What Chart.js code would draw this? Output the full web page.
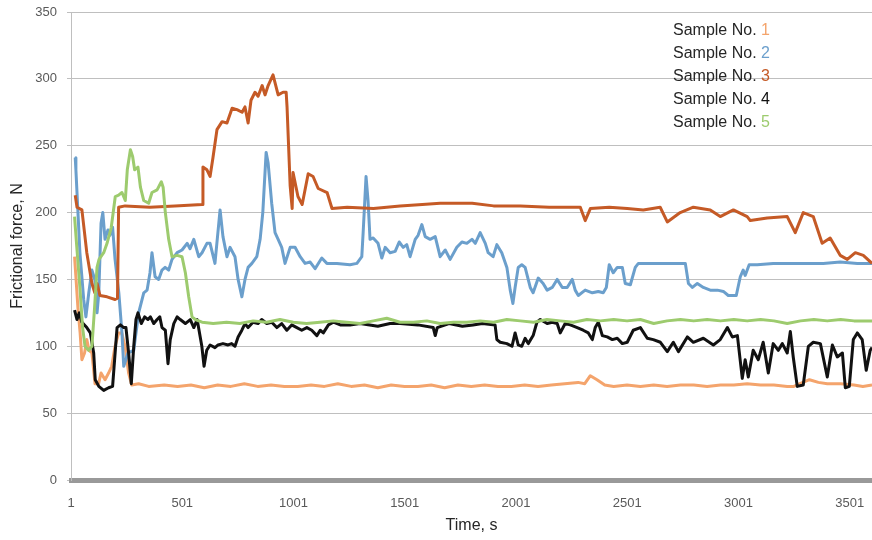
<!DOCTYPE html>
<html>
<head>
<meta charset="utf-8">
<title>Frictional force vs time</title>
<script src="https://cdn.jsdelivr.net/npm/chart.js@4.4.0/dist/chart.umd.min.js"></script>
<style>
  html, body { margin: 0; padding: 0; background: #fff; }
  #wrap { width: 872px; height: 540px; position: relative; }
</style>
</head>
<body>
<div id="wrap"><canvas id="frictionChart"></canvas></div>
<script>
// ---- data (time in s, force in N) ----
const timeTicks = [1, 501, 1001, 1501, 2001, 2501, 3001, 3501];
const sampleNumbers = ['1', '2', '3', '4', '5'];

const s1Time = [17,23,32,42,50,62,72,82,95,109, 125,136,154,170,184,199,215,229,244,260,
  274,305,350,420,480,540,600,660,720,780, 840,900,960,1020,1080,1140,1200,1260,1320,1380,
  1440,1500,1560,1620,1680,1740,1800,1860,1920,1980, 2040,2100,2160,2220,2280,2310,2335,2365,2400,2440,
  2500,2560,2620,2680,2740,2800,2860,2920,2980,3040, 3100,3160,3220,3250,3290,3320,3360,3400,3460,3520,
  3560,3601];
const s1Force = [167,152,129,110,90,95,105,97,95,72, 72,80,75,80,85,100,110,110,100,80,
  71,72,70,71,70,71,69,71,70,72, 70,71,70,70,71,70,72,70,71,69,
  71,70,70,71,69,71,70,71,70,70, 71,70,71,72,73,72,78,75,71,70,
  71,70,71,70,71,71,70,71,71,72, 71,71,70,70,73,75,73,72,72,71,
  70,71];

const s2Time = [20,23,41,58,68,81,95,108,118,126, 136,144,154,167,176,188,199,216,230,238,
  257,283,305,328,343,356,365,379,395,410, 424,440,455,478,500,523,536,553,575,590,
  612,626,648,671,684,702,716,738,752,769, 783,797,814,836,851,863,878,887,903,918,
  932,948,963,986,1008,1031,1053,1076,1098,1128, 1151,1196,1255,1286,1308,1314,1327,1336,1345,1359,
  1381,1398,1413,1435,1458,1476,1494,1510,1525,1548, 1561,1578,1593,1615,1638,1660,1683,1705,1735,1758,
  1780,1803,1818,1840,1863,1876,1898,1915,1937,1960, 1975,1987,1997,2011,2027,2042,2065,2078,2101,2123,
  2141,2164,2186,2209,2231,2254,2267,2281,2312,2344, 2371,2393,2407,2420,2438,2456,2479,2492,2515,2537,
  2551,2618,2695,2762,2776,2794,2816,2843,2874,2906, 2933,2955,2991,3009,3022,3031,3049,3085,3157,3234,
  3310,3382,3458,3535,3601];
const s2Force = [241,232,170,135,122,140,157,150,125,140, 192,200,180,187,183,189,165,140,110,85,
  95,97,125,140,142,155,170,152,150,157, 159,157,165,170,172,177,173,180,167,170,
  177,177,162,202,182,167,174,167,150,137, 150,159,162,167,180,200,245,237,207,185,
  180,174,162,174,174,167,162,163,158,166, 162,162,161,162,167,185,227,209,180,181,
  177,166,174,170,171,178,174,176,167,180, 183,191,182,180,182,167,172,165,174,178,
  177,180,177,185,177,170,167,176,170,159, 142,132,144,159,161,159,144,140,151,147,
  142,144,150,144,144,150,142,138,142,140, 141,140,144,161,155,159,159,147,146,159,
  162,162,162,162,147,144,147,144,142,142, 141,138,138,152,157,153,161,161,162,162,
  162,162,163,162,162];

const s3Time = [20,28,50,72,95,108,118,131,163,199, 210,215,244,356,468,590,594,612,626,639,
  657,680,702,725,747,770,783,797,810,828, 842,860,873,887,909,932,954,968,972,986,
  995,999,1021,1040,1067,1089,1112,1152,1174,1242, 1360,1480,1580,1660,1804,1900,2020,2150,2290,2312,
  2335,2420,2501,2573,2649,2681,2739,2798,2874,2919, 2978,3040,3054,3130,3220,3256,3292,3337,3377,3413,
  3458,3490,3526,3562,3601];
const s3Force = [213,204,202,170,147,140,147,138,137,135, 136,204,205,204,205,206,234,232,227,241,
  262,268,267,278,277,275,279,267,284,290, 287,295,288,295,303,288,290,290,279,220,
  203,230,212,206,229,227,218,215,203,204, 203,205,206,207,207,205,205,204,204,194,
  203,204,203,202,204,193,200,204,202,197, 202,197,194,196,197,185,200,197,177,181,
  168,165,170,168,162];

const s4Time = [17,28,38,50,72,88,103,110,126,148, 170,188,197,208,223,238,248,260,272,283,
  293,302,317,332,347,358,373,388,400,410, 425,437,447,463,478,492,515,537,553,568,
  589,599,611,626,648,662,684,707,723,738, 752,769,783,797,819,842,858,881,903,926,
  948,971,993,1016,1038,1061,1083,1106,1121,1135, 1158,1180,1211,1255,1300,1380,1435,1480,1560,1629,
  1638,1647,1700,1760,1808,1850,1907,1915,1930,1960, 1983,1997,2011,2027,2042,2056,2078,2095,2110,2141,
  2164,2186,2200,2222,2245,2276,2303,2326,2344,2357, 2371,2389,2411,2434,2456,2479,2501,2528,2560,2591,
  2618,2650,2681,2708,2731,2771,2798,2843,2888,2919, 2951,2973,2996,3018,3031,3045,3067,3090,3112,3135,
  3157,3180,3198,3220,3234,3247,3265,3292,3315,3337, 3369,3400,3423,3445,3468,3481,3499,3517,3535,3557,
  3575,3593,3601];
const s4Force = [127,120,125,118,114,110,95,75,70,67, 69,70,90,114,116,114,114,95,72,100,
  120,125,117,122,120,122,117,120,122,114, 112,87,105,117,122,120,117,120,114,120,
  100,85,97,101,99,101,102,101,102,100, 107,112,117,114,118,117,120,117,118,114,
  117,112,116,114,112,114,112,108,112,110, 116,118,116,116,117,115,117,117,116,114,
  108,114,117,115,116,117,116,105,103,102, 100,110,101,100,106,102,108,118,120,117,
  118,117,110,117,116,114,112,110,105,114, 118,108,107,105,106,102,103,112,114,106,
  105,103,96,103,96,107,103,106,101,105, 114,107,108,76,90,77,97,90,103,80,
  102,97,102,95,111,92,70,71,100,103, 102,77,101,92,95,69,70,105,110,105,
  82,97,99];

const s5Time = [17,28,41,53,64,80,95,107,118,127, 148,163,182,200,215,230,245,254,268,278,
  287,302,313,328,350,365,388,407,415,425, 440,455,478,500,515,530,545,560,590,640,
  700,760,820,880,940,1000,1060,1120,1180,1240, 1300,1360,1420,1480,1540,1600,1660,1720,1780,1840,
  1900,1960,2020,2080,2140,2200,2260,2320,2380,2440, 2500,2560,2620,2680,2740,2800,2860,2920,2980,3040,
  3100,3160,3220,3280,3340,3400,3460,3520,3601];
const s5Force = [197,172,144,114,100,97,100,129,159,165, 170,177,189,212,213,215,209,232,247,242,
  232,234,219,209,207,215,217,223,219,200, 180,167,168,167,155,137,122,120,118,117,
  118,117,119,118,120,118,117,118,119,118, 117,119,121,118,118,119,117,118,118,119,
  118,120,119,118,120,119,118,120,119,120, 119,120,117,119,120,119,120,119,120,119,
  120,119,117,119,120,119,120,119,119];

const lineColors = ['#f4a46c', '#6b9fcc', '#c55a26', '#111111', '#9dcb6e'];
const FONT = 'Arial, "Liberation Sans", sans-serif';

const toPoints = (ts, vs) => ts.map((t, i) => ({ x: t, y: vs[i] }));
const series = [
  toPoints(s1Time, s1Force),
  toPoints(s2Time, s2Force),
  toPoints(s3Time, s3Force),
  toPoints(s4Time, s4Force),
  toPoints(s5Time, s5Force)
];

// legend: "Sample No. " in dark text, number in the series colour
const sampleLegend = {
  id: 'sampleLegend',
  afterDraw(chart) {
    const ctx = chart.ctx;
    const prefix = 'Sample No. ';
    ctx.save();
    ctx.font = '16px ' + FONT;
    ctx.textBaseline = 'middle';
    sampleNumbers.forEach((num, i) => {
      const x = 673;
      const y = 31 + i * 22.8;
      ctx.fillStyle = '#262626';
      ctx.fillText(prefix, x, y);
      ctx.fillStyle = lineColors[i];
      ctx.fillText(num, x + ctx.measureText(prefix).width, y);
    });
    ctx.restore();
  }
};

new Chart(document.getElementById('frictionChart'), {
  type: 'line',
  data: {
    datasets: series.map((pts, i) => ({
      label: 'Sample No. ' + sampleNumbers[i],
      data: pts,
      borderColor: lineColors[i],
      borderWidth: 3,
      pointRadius: 0,
      tension: 0,
      fill: false,
      borderJoinStyle: 'round',
      order: 5 - i
    }))
  },
  options: {
    responsive: true,
    maintainAspectRatio: false,
    animation: false,
    layout: { padding: { top: 12, right: 0, bottom: 0, left: 0 } },
    plugins: {
      legend: { display: false },
      tooltip: { enabled: false }
    },
    scales: {
      x: {
        type: 'linear',
        min: 1,
        max: 3601,
        afterBuildTicks: s => { s.ticks = timeTicks.map(v => ({ value: v })); },
        afterFit: s => { s.height = 60; s.paddingLeft = 0; s.paddingRight = 0; },
        grid: { display: false, drawTicks: false },
        border: { display: true, width: 5, color: '#999999' },
        ticks: {
          padding: 16,
          autoSkip: false,
          maxRotation: 0,
          font: { family: FONT, size: 13 },
          color: '#595959',
          callback: v => String(v)
        },
        title: {
          display: true,
          text: 'Time, s',
          font: { family: FONT, size: 16 },
          color: '#262626',
          padding: { top: 0, bottom: 5 }
        }
      },
      y: {
        min: 0,
        max: 350,
        afterFit: s => { s.width = 71; s.paddingTop = 0; s.paddingBottom = 0; },
        ticks: {
          stepSize: 50,
          padding: 10,
          font: { family: FONT, size: 13 },
          color: '#595959'
        },
        grid: { color: '#bfbfbf', lineWidth: 1, tickLength: 4 },
        border: { color: '#bfbfbf', width: 1 },
        title: {
          display: true,
          text: 'Frictional force, N',
          font: { family: FONT, size: 16 },
          color: '#262626',
          padding: { top: 8, bottom: 0 }
        }
      }
    }
  },
  plugins: [sampleLegend]
});
</script>
</body>
</html>
